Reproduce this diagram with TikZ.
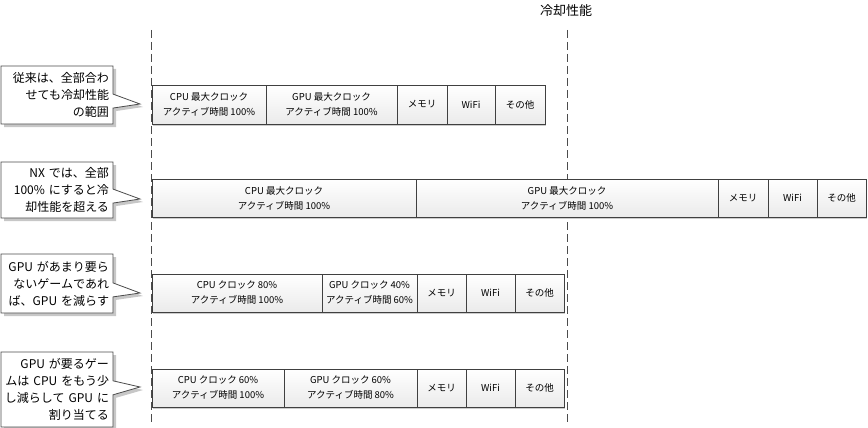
\documentclass[tikz,border=0pt]{standalone}
\usepackage{fontspec}
\setmainfont{Noto Sans CJK JP}
\usetikzlibrary{shapes.callouts,shadows}

\tikzset{
  part/.style={draw=black!75, line width=0.8pt, top color=white, bottom color=black!8, inner sep=0pt, align=center,
    font=\fontsize{9.5}{15}\selectfont, drop shadow={shadow xshift=1pt, shadow yshift=-1.5pt, fill=black!20, opacity=1}},
  note/.style={rectangle callout, draw=black!70, line width=0.8pt, fill=white, text width=104pt, inner xsep=4pt, inner ysep=0pt,
    align=right, font=\fontsize{12}{17}\selectfont, callout pointer width=14pt,
    drop shadow={shadow xshift=3pt, shadow yshift=-3pt, fill=black!22, opacity=1}},
  guide/.style={draw=black!70, line width=0.8pt, dash pattern=on 8pt off 4pt}
}

\begin{document}
\begin{tikzpicture}[x=1pt, y=-1pt]
\useasboundingbox (0,0) rectangle (868,428);

% dashed guides
\coordinate (baseTop) at (151,30);
\coordinate (baseBot) at (151,422);
\coordinate (limTop) at (567,30);
\coordinate (limBot) at (567,422);
\draw[guide] (baseTop) -- (baseBot);
\draw[guide] (limTop) -- (limBot);
\node[font=\fontsize{13}{15}\selectfont, inner sep=0pt] (limit) at (566,11) {冷却性能};

% row A
\node[part, minimum width=114pt, minimum height=39pt] (cpuA) at (209,104.5) {CPU 最大クロック\\アクティブ時間 100\%};
\node[part, minimum width=131pt, minimum height=39pt] (gpuA) at (331.5,104.5) {GPU 最大クロック\\アクティブ時間 100\%};
\node[part, minimum width=50pt, minimum height=39pt] (memA) at (422,104.5) {メモリ};
\node[part, minimum width=48pt, minimum height=39pt] (wifiA) at (471,104.5) {WiFi};
\node[part, minimum width=50pt, minimum height=39pt] (etcA) at (520,104.5) {その他};

% row B
\node[part, minimum width=264pt, minimum height=38pt] (cpuB) at (284,198) {CPU 最大クロック\\アクティブ時間 100\%};
\node[part, minimum width=302pt, minimum height=38pt] (gpuB) at (567,198) {GPU 最大クロック\\アクティブ時間 100\%};
\node[part, minimum width=50pt, minimum height=38pt] (memB) at (743,198) {メモリ};
\node[part, minimum width=49pt, minimum height=38pt] (wifiB) at (792.5,198) {WiFi};
\node[part, minimum width=49pt, minimum height=38pt] (etcB) at (841.5,198) {その他};

% rows C and D
\node[part, minimum width=170pt, minimum height=38pt] (cpuC) at (237,293) {CPU クロック 80\%\\アクティブ時間 100\%};
\node[part, minimum width=95pt, minimum height=38pt] (gpuC) at (369.5,293) {GPU クロック 40\%\\アクティブ時間 60\%};
\node[part, minimum width=132pt, minimum height=38pt] (cpuD) at (218,388) {CPU クロック 60\%\\アクティブ時間 100\%};
\node[part, minimum width=133pt, minimum height=38pt] (gpuD) at (350.5,388) {GPU クロック 60\%\\アクティブ時間 80\%};
\foreach \r/\y in {C/293, D/388}
{
  \node[part, minimum width=49pt, minimum height=38pt] (mem\r) at (441.5,\y) {メモリ};
  \node[part, minimum width=49pt, minimum height=38pt] (wifi\r) at (490.5,\y) {WiFi};
  \node[part, minimum width=49pt, minimum height=38pt] (etc\r) at (539.5,\y) {その他};
}

% callouts
\coordinate (tipA) at (140,104);
\coordinate (tipB) at (140,199);
\coordinate (tipC) at (140,293);
\coordinate (tipD) at (140,387);
\node[note, minimum height=58pt, callout absolute pointer=(tipA)] (noteA) at (57,95) {従来は、全部合わ\\せても冷却性能\\の範囲};
\node[note, minimum height=56pt, callout absolute pointer=(tipB)] (noteB) at (57,190) {NX~では、全部\\100\%~にすると冷\\却性能を超える};
\node[note, minimum height=59pt, callout absolute pointer=(tipC)] (noteC) at (57,283.5) {GPU~があまり要ら\\ないゲームであれ\\ば、GPU~を減らす};
\node[note, minimum height=75pt, callout absolute pointer=(tipD)] (noteD) at (57,389.5) {GPU~が要るゲー\\ムは~CPU~をもう少\\し減らして~GPU~に\\割り当てる};

\end{tikzpicture}
\end{document}
